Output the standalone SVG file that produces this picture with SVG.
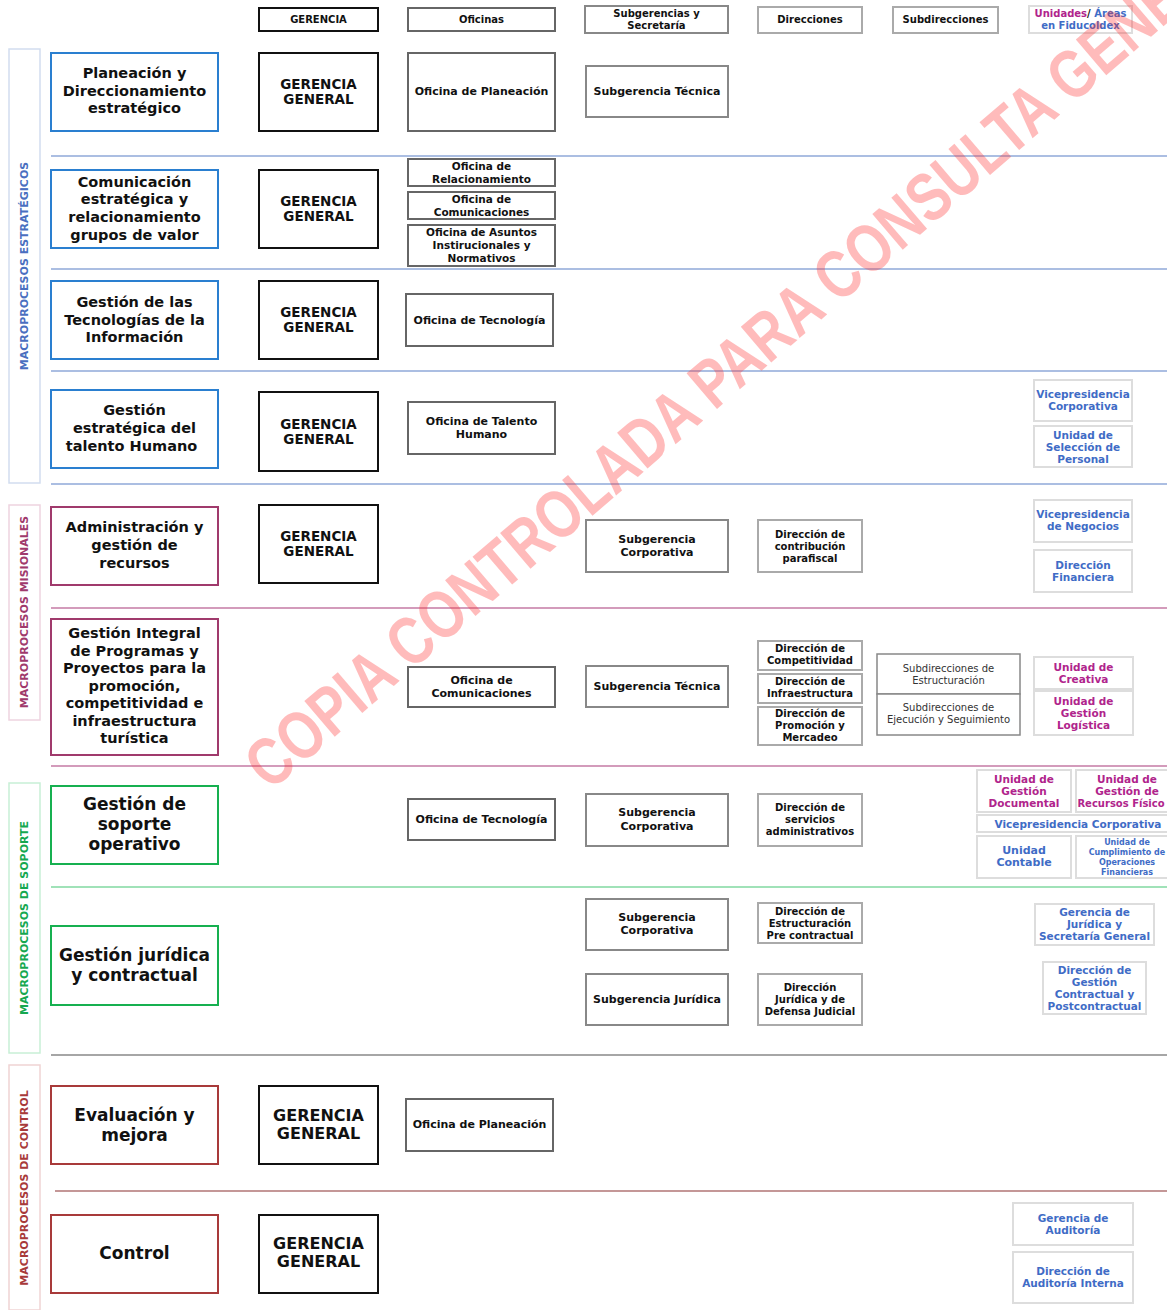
<svg xmlns="http://www.w3.org/2000/svg" width="1167" height="1310" viewBox="0 0 1167 1310">
<style>
text{font-family:"DejaVu Sans","Liberation Sans",sans-serif;text-anchor:middle;font-weight:bold;fill:#111}
rect{fill:#fff}
.hd rect{stroke-width:2}
.hd text{font-size:10px}
.cat rect{stroke-width:1.5}
.cat text{font-size:11px}
.pr rect{stroke-width:2}
.pr text{font-size:14.5px}
.pr.big text{font-size:17px}
.gg rect{stroke:#111;stroke-width:2}
.gg text{font-size:13.5px}
.gg.big text{font-size:16px}
.of rect{stroke:#666;stroke-width:2}
.of text{font-size:11px}
.of.sm text{font-size:10.5px}
.sg rect{stroke:#888;stroke-width:2}
.sg text{font-size:11px}
.dr rect{stroke:#aaa;stroke-width:2}
.dr text{font-size:10px}
.sd rect{stroke:#888;stroke-width:1.5}
.sd text{font-size:10px;font-weight:normal;fill:#333}
.un rect{stroke:#ddd;stroke-width:2}
.un text{font-size:10.5px;fill:#3f6cc6}
.un.pk text{fill:#b0248c}
.blue rect{stroke:#2a7fd0}
.mag rect{stroke:#a03a6c}
.grn rect{stroke:#16b050}
.red rect{stroke:#a83a3a}
.sep line{stroke-width:1.5}
.wm{font-family:"Liberation Sans",sans-serif;font-weight:bold;fill:#ff3030;opacity:0.32;font-size:68px;text-anchor:start}
</style>
<rect x="0" y="0" width="1167" height="1310" fill="#fff"/>

<g id="separators" class="sep">
<line x1="51" y1="156" x2="1167" y2="156" stroke="#8fa8d8"/>
<line x1="51" y1="269" x2="1167" y2="269" stroke="#8fa8d8"/>
<line x1="51" y1="371" x2="1167" y2="371" stroke="#8fa8d8"/>
<line x1="51" y1="484" x2="1167" y2="484" stroke="#8fa8d8"/>
<line x1="51" y1="608" x2="1167" y2="608" stroke="#c47aa4"/>
<line x1="51" y1="766" x2="1167" y2="766" stroke="#c47aa4"/>
<line x1="51" y1="887" x2="1167" y2="887" stroke="#80d8a0"/>
<line x1="51" y1="1055" x2="1167" y2="1055" stroke="#888"/>
<line x1="55" y1="1191" x2="1167" y2="1191" stroke="#b07474"/>
</g>

<g id="connectors"></g>

<!-- header -->
<g id="h-gerencia" class="hd"><rect x="259" y="8" width="119" height="23" stroke="#111"/><text x="318.5" y="23">GERENCIA</text></g>
<g id="h-oficinas" class="hd"><rect x="408" y="8" width="147" height="23" stroke="#666"/><text x="481.5" y="23">Oficinas</text></g>
<g id="h-subgerencias" class="hd"><rect x="585" y="6" width="143" height="27" stroke="#888"/><text x="656.5" y="17">Subgerencias y</text><text x="656.5" y="29">Secretaría</text></g>
<g id="h-direcciones" class="hd"><rect x="758" y="7" width="104" height="26" stroke="#aaa"/><text x="810" y="23">Direcciones</text></g>
<g id="h-subdirecciones" class="hd"><rect x="893" y="7" width="105" height="26" stroke="#aaa"/><text x="945.5" y="23">Subdirecciones</text></g>
<g id="h-unidades" class="hd"><rect x="1029" y="6" width="103" height="27" stroke="#ddd"/><text x="1080.5" y="17"><tspan fill="#b0248c">Unidades</tspan>/ <tspan fill="#3f6cc6">Áreas</tspan></text><text x="1080.5" y="29" style="fill:#3f6cc6">en Fiducoldex</text></g>

<!-- categories -->
<g id="cat-estrategicos" class="cat"><rect x="9" y="49" width="31" height="434" stroke="#d2ddef"/><text transform="translate(28,266) rotate(-90)" style="fill:#4a6fc0">MACROPROCESOS ESTRATÉGICOS</text></g>
<g id="cat-misionales" class="cat"><rect x="9" y="505" width="31" height="215" stroke="#eed4e0"/><text transform="translate(28,612) rotate(-90)" style="fill:#a03a6c">MACROPROCESOS MISIONALES</text></g>
<g id="cat-soporte" class="cat"><rect x="9" y="783" width="31" height="270" stroke="#c8efd6"/><text transform="translate(28,918) rotate(-90)" style="fill:#16a850">MACROPROCESOS DE SOPORTE</text></g>
<g id="cat-control" class="cat"><rect x="9" y="1065" width="31" height="245" stroke="#f0d4d4"/><text transform="translate(28,1188) rotate(-90)" style="fill:#a83a3a">MACROPROCESOS DE CONTROL</text></g>

<!-- processes -->
<g id="p-planeacion" class="pr blue"><rect x="51" y="53" width="167" height="78"/><text x="134.5" y="78">Planeación y</text><text x="134.5" y="96">Direccionamiento</text><text x="134.5" y="113">estratégico</text></g>
<g id="p-comunicacion" class="pr blue"><rect x="51" y="170" width="167" height="78"/><text x="134.5" y="187">Comunicación</text><text x="134.5" y="204">estratégica y</text><text x="134.5" y="222">relacionamiento</text><text x="134.5" y="240">grupos de valor</text></g>
<g id="p-tecnologias" class="pr blue"><rect x="51" y="281" width="167" height="78"/><text x="134.5" y="307">Gestión de las</text><text x="134.5" y="325">Tecnologías de la</text><text x="134.5" y="342">Información</text></g>
<g id="p-talento" class="pr blue"><rect x="51" y="390" width="167" height="78"/><text x="134.5" y="415">Gestión</text><text x="134.5" y="433">estratégica del</text><text x="131.5" y="451">talento Humano</text></g>
<g id="p-administracion" class="pr mag"><rect x="51" y="507" width="167" height="78"/><text x="134.5" y="532">Administración y</text><text x="134.5" y="550">gestión de</text><text x="134.5" y="568">recursos</text></g>
<g id="p-integral" class="pr mag"><rect x="51" y="619" width="167" height="136"/><text x="134.5" y="638">Gestión Integral</text><text x="134.5" y="656">de Programas y</text><text x="134.5" y="673">Proyectos para la</text><text x="134.5" y="691">promoción,</text><text x="134.5" y="708">competitividad e</text><text x="134.5" y="726">infraestructura</text><text x="134.5" y="743">turística</text></g>
<g id="p-soporte" class="pr big grn"><rect x="51" y="786" width="167" height="78"/><text x="134.5" y="810">Gestión de</text><text x="134.5" y="830">soporte</text><text x="134.5" y="850">operativo</text></g>
<g id="p-juridica" class="pr big grn"><rect x="51" y="926" width="167" height="79"/><text x="134.5" y="961">Gestión jurídica</text><text x="134.5" y="981">y contractual</text></g>
<g id="p-evaluacion" class="pr big red"><rect x="51" y="1086" width="167" height="78"/><text x="134.5" y="1121">Evaluación y</text><text x="134.5" y="1141">mejora</text></g>
<g id="p-control" class="pr big red"><rect x="51" y="1215" width="167" height="78"/><text x="134.5" y="1259">Control</text></g>

<!-- gerencia general -->
<g id="gg-1" class="gg"><rect x="259" y="53" width="119" height="78"/><text x="318.5" y="89">GERENCIA</text><text x="318.5" y="104">GENERAL</text></g>
<g id="gg-2" class="gg"><rect x="259" y="170" width="119" height="78"/><text x="318.5" y="206">GERENCIA</text><text x="318.5" y="221">GENERAL</text></g>
<g id="gg-3" class="gg"><rect x="259" y="281" width="119" height="78"/><text x="318.5" y="317">GERENCIA</text><text x="318.5" y="332">GENERAL</text></g>
<g id="gg-4" class="gg"><rect x="259" y="392" width="119" height="79"/><text x="318.5" y="429">GERENCIA</text><text x="318.5" y="444">GENERAL</text></g>
<g id="gg-5" class="gg"><rect x="259" y="505" width="119" height="78"/><text x="318.5" y="541">GERENCIA</text><text x="318.5" y="556">GENERAL</text></g>
<g id="gg-6" class="gg big"><rect x="259" y="1086" width="119" height="78"/><text x="318.5" y="1121">GERENCIA</text><text x="318.5" y="1139">GENERAL</text></g>
<g id="gg-7" class="gg big"><rect x="259" y="1215" width="119" height="78"/><text x="318.5" y="1249">GERENCIA</text><text x="318.5" y="1267">GENERAL</text></g>

<!-- oficinas -->
<g id="of-planeacion-1" class="of"><rect x="408" y="53" width="147" height="78"/><text x="481.5" y="95">Oficina de Planeación</text></g>
<g id="of-relacionamiento" class="of sm"><rect x="408" y="159" width="147" height="27"/><text x="481.5" y="170">Oficina de</text><text x="481.5" y="183">Relacionamiento</text></g>
<g id="of-comunicaciones-1" class="of sm"><rect x="408" y="192" width="147" height="27"/><text x="481.5" y="203">Oficina de</text><text x="481.5" y="216">Comunicaciones</text></g>
<g id="of-asuntos" class="of sm"><rect x="408" y="225" width="147" height="41"/><text x="481.5" y="236">Oficina de Asuntos</text><text x="481.5" y="249">Instirucionales y</text><text x="481.5" y="262">Normativos</text></g>
<g id="of-tecnologia-1" class="of"><rect x="406" y="294" width="147" height="52"/><text x="479.5" y="324">Oficina de Tecnología</text></g>
<g id="of-talento" class="of"><rect x="408" y="402" width="147" height="52"/><text x="481.5" y="425">Oficina de Talento</text><text x="481.5" y="438">Humano</text></g>
<g id="of-comunicaciones-2" class="of"><rect x="408" y="667" width="147" height="40"/><text x="481.5" y="684">Oficina de</text><text x="481.5" y="697">Comunicaciones</text></g>
<g id="of-tecnologia-2" class="of"><rect x="408" y="799" width="147" height="41"/><text x="481.5" y="823">Oficina de Tecnología</text></g>
<g id="of-planeacion-2" class="of"><rect x="406" y="1099" width="147" height="52"/><text x="479.5" y="1128">Oficina de Planeación</text></g>

<!-- subgerencias -->
<g id="sg-tecnica-1" class="sg"><rect x="586" y="66" width="142" height="51"/><text x="657" y="95">Subgerencia Técnica</text></g>
<g id="sg-corporativa-1" class="sg"><rect x="586" y="520" width="142" height="52"/><text x="657" y="543">Subgerencia</text><text x="657" y="556">Corporativa</text></g>
<g id="sg-tecnica-2" class="sg"><rect x="586" y="666" width="142" height="41"/><text x="657" y="690">Subgerencia Técnica</text></g>
<g id="sg-corporativa-2" class="sg"><rect x="586" y="794" width="142" height="52"/><text x="657" y="816">Subgerencia</text><text x="657" y="830">Corporativa</text></g>
<g id="sg-corporativa-3" class="sg"><rect x="586" y="899" width="142" height="51"/><text x="657" y="921">Subgerencia</text><text x="657" y="934">Corporativa</text></g>
<g id="sg-juridica" class="sg"><rect x="586" y="974" width="142" height="51"/><text x="657" y="1003">Subgerencia Jurídica</text></g>

<!-- direcciones -->
<g id="dr-parafiscal" class="dr"><rect x="758" y="520" width="104" height="52"/><text x="810" y="538">Dirección de</text><text x="810" y="550">contribución</text><text x="810" y="562">parafiscal</text></g>
<g id="dr-competitividad" class="dr"><rect x="758" y="641" width="104" height="29"/><text x="810" y="652">Dirección de</text><text x="810" y="664">Competitividad</text></g>
<g id="dr-infraestructura" class="dr"><rect x="758" y="674" width="104" height="29"/><text x="810" y="685">Dirección de</text><text x="810" y="697">Infraestructura</text></g>
<g id="dr-promocion" class="dr"><rect x="758" y="707" width="104" height="38"/><text x="810" y="717">Dirección de</text><text x="810" y="729">Promoción y</text><text x="810" y="741">Mercadeo</text></g>
<g id="dr-servicios" class="dr"><rect x="758" y="794" width="104" height="52"/><text x="810" y="811">Dirección de</text><text x="810" y="823">servicios</text><text x="810" y="835">administrativos</text></g>
<g id="dr-estructuracion" class="dr"><rect x="758" y="903" width="104" height="40"/><text x="810" y="915">Dirección de</text><text x="810" y="927">Estructuración</text><text x="810" y="939">Pre contractual</text></g>
<g id="dr-juridica" class="dr"><rect x="758" y="974" width="104" height="51"/><text x="810" y="991">Dirección</text><text x="810" y="1003">Jurídica y de</text><text x="810" y="1015">Defensa Judicial</text></g>

<!-- subdirecciones -->
<g id="sd-estructuracion" class="sd"><rect x="877" y="654" width="143" height="40"/><text x="948.5" y="672">Subdirecciones de</text><text x="948.5" y="684">Estructuración</text></g>
<g id="sd-ejecucion" class="sd"><rect x="877" y="694" width="143" height="41"/><text x="948.5" y="711">Subdirecciones de</text><text x="948.5" y="723">Ejecución y Seguimiento</text></g>

<!-- unidades -->
<g id="un-vp-corporativa-1" class="un"><rect x="1034" y="380" width="98" height="41"/><text x="1083" y="398">Vicepresidencia</text><text x="1083" y="410">Corporativa</text></g>
<g id="un-seleccion" class="un"><rect x="1034" y="426" width="98" height="41"/><text x="1083" y="439">Unidad de</text><text x="1083" y="451">Selección de</text><text x="1083" y="463">Personal</text></g>
<g id="un-vp-negocios" class="un"><rect x="1034" y="500" width="98" height="42"/><text x="1083" y="518">Vicepresidencia</text><text x="1083" y="530">de Negocios</text></g>
<g id="un-financiera" class="un"><rect x="1034" y="550" width="98" height="42"/><text x="1083" y="569">Dirección</text><text x="1083" y="581">Financiera</text></g>
<g id="un-creativa" class="un pk"><rect x="1034" y="657" width="99" height="32"/><text x="1083.5" y="671">Unidad de</text><text x="1083.5" y="683">Creativa</text></g>
<g id="un-logistica" class="un pk"><rect x="1034" y="691" width="99" height="44"/><text x="1083.5" y="705">Unidad de</text><text x="1083.5" y="717">Gestión</text><text x="1083.5" y="729">Logística</text></g>
<g id="un-documental" class="un pk"><rect x="977" y="770" width="94" height="42"/><text x="1024" y="783">Unidad de</text><text x="1024" y="795">Gestión</text><text x="1024" y="807">Documental</text></g>
<g id="un-recursos" class="un pk"><rect x="1076" y="770" width="96" height="42"/><text x="1127" y="783">Unidad de</text><text x="1127" y="795">Gestión de</text><text x="1121" y="807" style="font-size:10px">Recursos Físico</text></g>
<g id="un-vp-corporativa-2" class="un"><rect x="977" y="815" width="195" height="17"/><text x="1078" y="828">Vicepresidencia Corporativa</text></g>
<g id="un-contable" class="un"><rect x="977" y="836" width="94" height="42"/><text x="1024" y="854" style="font-size:11px">Unidad</text><text x="1024" y="866" style="font-size:11px">Contable</text></g>
<g id="un-cumplimiento" class="un"><rect x="1076" y="836" width="96" height="42"/><text x="1127" y="845" style="font-size:8px">Unidad de</text><text x="1127" y="855" style="font-size:8px">Cumplimiento de</text><text x="1127" y="865" style="font-size:8px">Operaciones</text><text x="1127" y="875" style="font-size:8px">Financieras</text></g>
<g id="un-gerencia-juridica" class="un"><rect x="1035" y="904" width="119" height="41"/><text x="1094.5" y="916">Gerencia de</text><text x="1094.5" y="928">Jurídica y</text><text x="1094.5" y="940">Secretaría General</text></g>
<g id="un-contractual" class="un"><rect x="1043" y="962" width="103" height="52"/><text x="1094.5" y="974">Dirección de</text><text x="1094.5" y="986">Gestión</text><text x="1094.5" y="998">Contractual y</text><text x="1094.5" y="1010">Postcontractual</text></g>
<g id="un-gerencia-auditoria" class="un"><rect x="1013" y="1203" width="120" height="42"/><text x="1073" y="1222">Gerencia de</text><text x="1073" y="1234">Auditoría</text></g>
<g id="un-auditoria-interna" class="un"><rect x="1013" y="1252" width="120" height="51"/><text x="1073" y="1275">Dirección de</text><text x="1073" y="1287">Auditoría Interna</text></g>

<text class="wm" transform="translate(270,792) rotate(-40.6) scale(0.8,1)">COPIA CONTROLADA PARA CONSULTA GENE</text>
</svg>
